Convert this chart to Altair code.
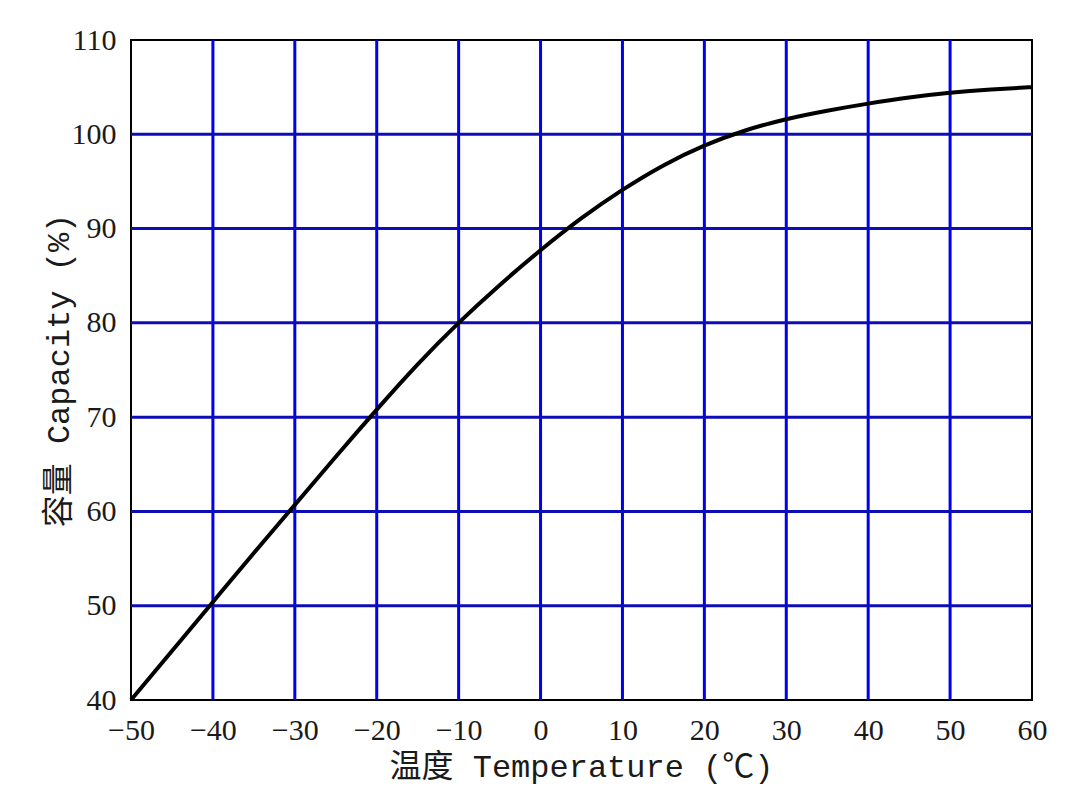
import altair as alt
import pandas as pd

# Curve
temps = [-50, -45, -40, -35, -30, -25, -20, -15, -10, -5, 0, 5, 10, 15, 20, 25, 30, 35, 40, 45, 50, 55, 60]
capacity = [40.0, 45.2, 50.4, 55.6, 60.7, 65.8, 70.8, 75.6, 80.0, 84.0, 87.7, 91.1, 94.1, 96.7, 98.8, 100.4, 101.6, 102.5, 103.25, 103.9, 104.4, 104.75, 105.0]

x_ticks = [-50, -40, -30, -20, -10, 0, 10, 20, 30, 40, 50, 60]
y_ticks = [40, 50, 60, 70, 80, 90, 100, 110]
x_grid = [-40, -30, -20, -10, 0, 10, 20, 30, 40, 50]
y_grid = [50, 60, 70, 80, 90, 100]

curve = pd.DataFrame({"t": temps, "c": capacity})
vgrid = pd.DataFrame({"t": x_grid})
hgrid = pd.DataFrame({"c": y_grid})

TITLE_FONT = "Liberation Mono, Noto Sans CJK SC"
LABEL_FONT = "Liberation Serif"

xscale = alt.Scale(domain=[-50, 60], nice=False, zero=False)
yscale = alt.Scale(domain=[40, 110], nice=False, zero=False)

xaxis = alt.Axis(values=x_ticks, grid=False, ticks=False, domain=False,
                 labelFont=LABEL_FONT, labelFontSize=30, labelColor="#1a1a1a",
                 labelPadding=15, labelFlush=False, labelOverlap=False,
                 title="温度 Temperature (℃)", titleFont=TITLE_FONT, titleFontSize=32,
                 titleFontWeight="normal", titleColor="#1a1a1a",
                 titleX=450, titleY=66, titleAlign="center", titleBaseline="middle")
yaxis = alt.Axis(values=y_ticks, grid=False, ticks=False, domain=False,
                 labelFont=LABEL_FONT, labelFontSize=30, labelColor="#1a1a1a",
                 labelPadding=15, labelFlush=False, labelOverlap=False,
                 title="容量 Capacity (%)", titleFont=TITLE_FONT, titleFontSize=32,
                 titleFontWeight="normal", titleColor="#1a1a1a",
                 titleX=-73, titleY=330, titleAngle=270, titleAlign="center", titleBaseline="middle")

vlines = alt.Chart(vgrid).mark_rule(color="#0000ee", strokeWidth=3).encode(
    x=alt.X("t:Q", scale=xscale, axis=xaxis)
)
hlines = alt.Chart(hgrid).mark_rule(color="#0c0cb8", strokeWidth=3).encode(
    y=alt.Y("c:Q", scale=yscale, axis=yaxis)
)
line = alt.Chart(curve).mark_line(color="black", strokeWidth=4, interpolate="natural").encode(
    x=alt.X("t:Q", scale=xscale),
    y=alt.Y("c:Q", scale=yscale),
)

chart = alt.layer(vlines, hlines, line).properties(
    width=901, height=660,
    autosize=alt.AutoSizeParams(type="none"),
    padding={"left": 131, "top": 40, "right": 33, "bottom": 102},
    background="white",
).configure_view(stroke="black", strokeWidth=2)

chart.save("out.html", embed_options={"renderer": "svg", "actions": False})
